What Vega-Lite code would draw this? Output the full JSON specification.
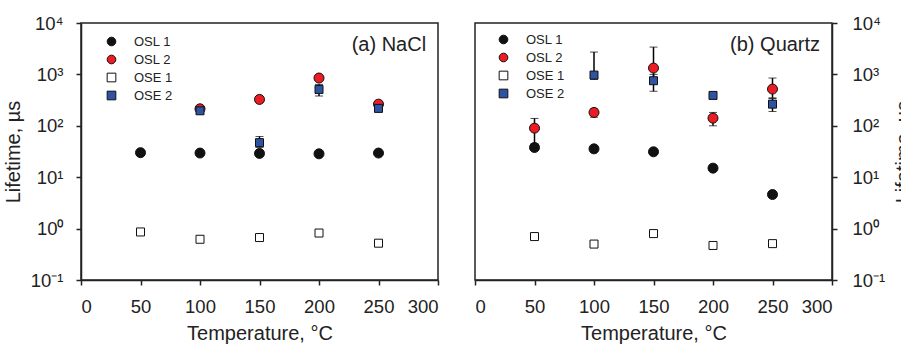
{
  "$schema": "https://vega.github.io/schema/vega-lite/v6.json",
  "padding": {"left": 2, "top": 13, "right": 0, "bottom": 0},
  "config": {
    "font": "Liberation Sans",
    "view": {"stroke": "#222", "strokeWidth": 1.5},
    "axis": {"grid": false, "domainColor": "#222", "tickColor": "#222", "domainWidth": 1.5, "tickWidth": 1.5, "tickSize": 5, "labelColor": "#222", "titleColor": "#222", "labelFontSize": 18.5, "titleFontSize": 20, "titleFontWeight": "normal"},
    "legend": {"labelFontSize": 13, "labelColor": "#222", "symbolSize": 75, "rowPadding": 4, "labelOffset": 16, "symbolStrokeWidth": 1, "symbolOffset": 12}
  },
  "datasets": {
    "pts": [
      {"panel": "NaCl", "series": "OSL 1", "T": 50, "v": 30},
      {"panel": "NaCl", "series": "OSL 1", "T": 100, "v": 29.5},
      {"panel": "NaCl", "series": "OSL 1", "T": 150, "v": 29},
      {"panel": "NaCl", "series": "OSL 1", "T": 200, "v": 28.5},
      {"panel": "NaCl", "series": "OSL 1", "T": 250, "v": 29.5},
      {"panel": "NaCl", "series": "OSL 2", "T": 100, "v": 214},
      {"panel": "NaCl", "series": "OSL 2", "T": 150, "v": 326},
      {"panel": "NaCl", "series": "OSL 2", "T": 200, "v": 850},
      {"panel": "NaCl", "series": "OSL 2", "T": 250, "v": 264},
      {"panel": "NaCl", "series": "OSE 1", "T": 50, "v": 0.86},
      {"panel": "NaCl", "series": "OSE 1", "T": 100, "v": 0.62},
      {"panel": "NaCl", "series": "OSE 1", "T": 150, "v": 0.67},
      {"panel": "NaCl", "series": "OSE 1", "T": 200, "v": 0.82},
      {"panel": "NaCl", "series": "OSE 1", "T": 250, "v": 0.52},
      {"panel": "NaCl", "series": "OSE 2", "T": 100, "v": 196},
      {"panel": "NaCl", "series": "OSE 2", "T": 150, "v": 47, "lo": 38, "hi": 62},
      {"panel": "NaCl", "series": "OSE 2", "T": 200, "v": 510, "lo": 380, "hi": 640},
      {"panel": "NaCl", "series": "OSE 2", "T": 250, "v": 218},
      {"panel": "Quartz", "series": "OSL 1", "T": 50, "v": 37.8},
      {"panel": "Quartz", "series": "OSL 1", "T": 100, "v": 35.6},
      {"panel": "Quartz", "series": "OSL 1", "T": 150, "v": 31.2},
      {"panel": "Quartz", "series": "OSL 1", "T": 200, "v": 15},
      {"panel": "Quartz", "series": "OSL 1", "T": 250, "v": 4.6},
      {"panel": "Quartz", "series": "OSL 2", "T": 50, "v": 90, "lo": 45, "hi": 139},
      {"panel": "Quartz", "series": "OSL 2", "T": 100, "v": 182, "lo": 147, "hi": 214},
      {"panel": "Quartz", "series": "OSL 2", "T": 150, "v": 1328, "lo": 700, "hi": 3400},
      {"panel": "Quartz", "series": "OSL 2", "T": 200, "v": 141, "lo": 100, "hi": 182},
      {"panel": "Quartz", "series": "OSL 2", "T": 250, "v": 518, "lo": 350, "hi": 850},
      {"panel": "Quartz", "series": "OSE 1", "T": 50, "v": 0.70},
      {"panel": "Quartz", "series": "OSE 1", "T": 100, "v": 0.50},
      {"panel": "Quartz", "series": "OSE 1", "T": 150, "v": 0.80},
      {"panel": "Quartz", "series": "OSE 1", "T": 200, "v": 0.47},
      {"panel": "Quartz", "series": "OSE 1", "T": 250, "v": 0.51},
      {"panel": "Quartz", "series": "OSE 2", "T": 100, "v": 970, "lo": 800, "hi": 2720},
      {"panel": "Quartz", "series": "OSE 2", "T": 150, "v": 753, "lo": 470, "hi": 1000},
      {"panel": "Quartz", "series": "OSE 2", "T": 200, "v": 390, "lo": 370, "hi": 410},
      {"panel": "Quartz", "series": "OSE 2", "T": 250, "v": 264, "lo": 190, "hi": 340}
    ],
    "labels": [
      {"panel": "NaCl", "text": "(a) NaCl"},
      {"panel": "Quartz", "text": "(b) Quartz"}
    ]
  },
  "hconcat": [
    {
      "width": 357,
      "height": 257,
      "layer": [
        {
          "data": {"name": "pts"},
          "transform": [{"filter": "datum.panel == 'NaCl' && isValid(datum.lo)"}],
          "mark": {"type": "errorbar", "ticks": {"size": 8, "color": "black", "strokeWidth": 1.5}, "rule": {"color": "black", "strokeWidth": 1.5}},
          "encoding": {
            "x": {"field": "T", "type": "quantitative", "scale": {"domain": [0, 300], "nice": false}, "title": "Temperature, °C", "axis": {"values": [0, 50, 100, 150, 200, 250, 300], "labelPadding": 12, "titlePadding": 8}},
            "y": {"field": "lo", "type": "quantitative", "scale": {"type": "log", "domain": [0.1, 10000], "nice": false}, "title": "Lifetime, µs", "axis": {"orient": "left", "values": [0.1, 1, 10, 100, 1000, 10000], "labelExpr": "['10⁻¹','10⁰','10¹','10²','10³','10⁴'][round(log(datum.value)/LN10)+1]", "labelPadding": 13, "titlePadding": 7}},
            "y2": {"field": "hi"}
          }
        },
        {
          "data": {"name": "pts"},
          "transform": [{"filter": "datum.panel == 'NaCl' && indexof(datum.series, 'OSL') == 0"}],
          "mark": {"type": "point", "filled": true, "strokeWidth": 1, "opacity": 1, "size": 100},
          "encoding": {
            "x": {"field": "T", "type": "quantitative", "title": "Temperature, °C"},
            "y": {"field": "v", "type": "quantitative", "title": "Lifetime, µs"},
            "fill": {"field": "series", "type": "nominal", "title": null, "scale": {"domain": ["OSL 1", "OSL 2", "OSE 1", "OSE 2"], "range": ["#111111", "#ec1c24", "#ffffff", "#2f53a3"]}, "legend": {"orient": "top-left", "offset": 12}},
            "shape": {"field": "series", "type": "nominal", "title": null, "scale": {"domain": ["OSL 1", "OSL 2", "OSE 1", "OSE 2"], "range": ["circle", "circle", "square", "square"]}, "legend": {"orient": "top-left", "offset": 12}},
            "stroke": {"field": "series", "type": "nominal", "title": null, "scale": {"domain": ["OSL 1", "OSL 2", "OSE 1", "OSE 2"], "range": ["#111111", "#111111", "#111111", "#111111"]}, "legend": {"orient": "top-left", "offset": 12}}
          }
        },
        {
          "data": {"name": "pts"},
          "transform": [{"filter": "datum.panel == 'NaCl' && indexof(datum.series, 'OSE') == 0"}],
          "mark": {"type": "point", "filled": true, "strokeWidth": 1, "opacity": 1, "size": 64},
          "encoding": {
            "x": {"field": "T", "type": "quantitative", "title": "Temperature, °C"},
            "y": {"field": "v", "type": "quantitative", "title": "Lifetime, µs"},
            "fill": {"field": "series", "type": "nominal", "title": null},
            "shape": {"field": "series", "type": "nominal", "title": null},
            "stroke": {"field": "series", "type": "nominal", "title": null}
          }
        },
        {
          "data": {"name": "labels"},
          "transform": [{"filter": "datum.panel == 'NaCl'"}],
          "mark": {"type": "text", "align": "right", "baseline": "middle", "fontSize": 20, "color": "#222"},
          "encoding": {
            "x": {"datum": 290, "type": "quantitative"},
            "y": {"datum": 3700, "type": "quantitative"},
            "text": {"field": "text"}
          }
        }
      ]
    },
    {
      "width": 357,
      "height": 257,
      "layer": [
        {
          "data": {"name": "pts"},
          "transform": [{"filter": "datum.panel == 'Quartz' && isValid(datum.lo)"}],
          "mark": {"type": "errorbar", "ticks": {"size": 8, "color": "black", "strokeWidth": 1.5}, "rule": {"color": "black", "strokeWidth": 1.5}},
          "encoding": {
            "x": {"field": "T", "type": "quantitative", "scale": {"domain": [0, 300], "nice": false}, "title": "Temperature, °C", "axis": {"values": [0, 50, 100, 150, 200, 250, 300], "labelPadding": 12, "titlePadding": 8}},
            "y": {"field": "lo", "type": "quantitative", "scale": {"type": "log", "domain": [0.1, 10000], "nice": false}, "title": "Lifetime, µs", "axis": {"orient": "right", "values": [0.1, 1, 10, 100, 1000, 10000], "labelExpr": "['10⁻¹','10⁰','10¹','10²','10³','10⁴'][round(log(datum.value)/LN10)+1]", "labelPadding": 15, "titlePadding": 9, "titleAngle": 270, "titleBaseline": "top"}},
            "y2": {"field": "hi"}
          }
        },
        {
          "data": {"name": "pts"},
          "transform": [{"filter": "datum.panel == 'Quartz' && indexof(datum.series, 'OSL') == 0"}],
          "mark": {"type": "point", "filled": true, "strokeWidth": 1, "opacity": 1, "size": 100},
          "encoding": {
            "x": {"field": "T", "type": "quantitative", "title": "Temperature, °C"},
            "y": {"field": "v", "type": "quantitative", "title": "Lifetime, µs"},
            "fill": {"field": "series", "type": "nominal", "title": null, "scale": {"domain": ["OSL 1", "OSL 2", "OSE 1", "OSE 2"], "range": ["#111111", "#ec1c24", "#ffffff", "#2f53a3"]}, "legend": {"orient": "top-left", "offset": 10}},
            "shape": {"field": "series", "type": "nominal", "title": null, "scale": {"domain": ["OSL 1", "OSL 2", "OSE 1", "OSE 2"], "range": ["circle", "circle", "square", "square"]}, "legend": {"orient": "top-left", "offset": 10}},
            "stroke": {"field": "series", "type": "nominal", "title": null, "scale": {"domain": ["OSL 1", "OSL 2", "OSE 1", "OSE 2"], "range": ["#111111", "#111111", "#111111", "#111111"]}, "legend": {"orient": "top-left", "offset": 10}}
          }
        },
        {
          "data": {"name": "pts"},
          "transform": [{"filter": "datum.panel == 'Quartz' && indexof(datum.series, 'OSE') == 0"}],
          "mark": {"type": "point", "filled": true, "strokeWidth": 1, "opacity": 1, "size": 64},
          "encoding": {
            "x": {"field": "T", "type": "quantitative", "title": "Temperature, °C"},
            "y": {"field": "v", "type": "quantitative", "title": "Lifetime, µs"},
            "fill": {"field": "series", "type": "nominal", "title": null},
            "shape": {"field": "series", "type": "nominal", "title": null},
            "stroke": {"field": "series", "type": "nominal", "title": null}
          }
        },
        {
          "data": {"name": "labels"},
          "transform": [{"filter": "datum.panel == 'Quartz'"}],
          "mark": {"type": "text", "align": "right", "baseline": "middle", "fontSize": 20, "color": "#222"},
          "encoding": {
            "x": {"datum": 290, "type": "quantitative"},
            "y": {"datum": 3700, "type": "quantitative"},
            "text": {"field": "text"}
          }
        }
      ]
    }
  ],
  "spacing": 33,
  "resolve": {
    "scale": {"fill": "independent", "shape": "independent", "stroke": "independent"},
    "legend": {"fill": "independent", "shape": "independent", "stroke": "independent"}
  }
}
